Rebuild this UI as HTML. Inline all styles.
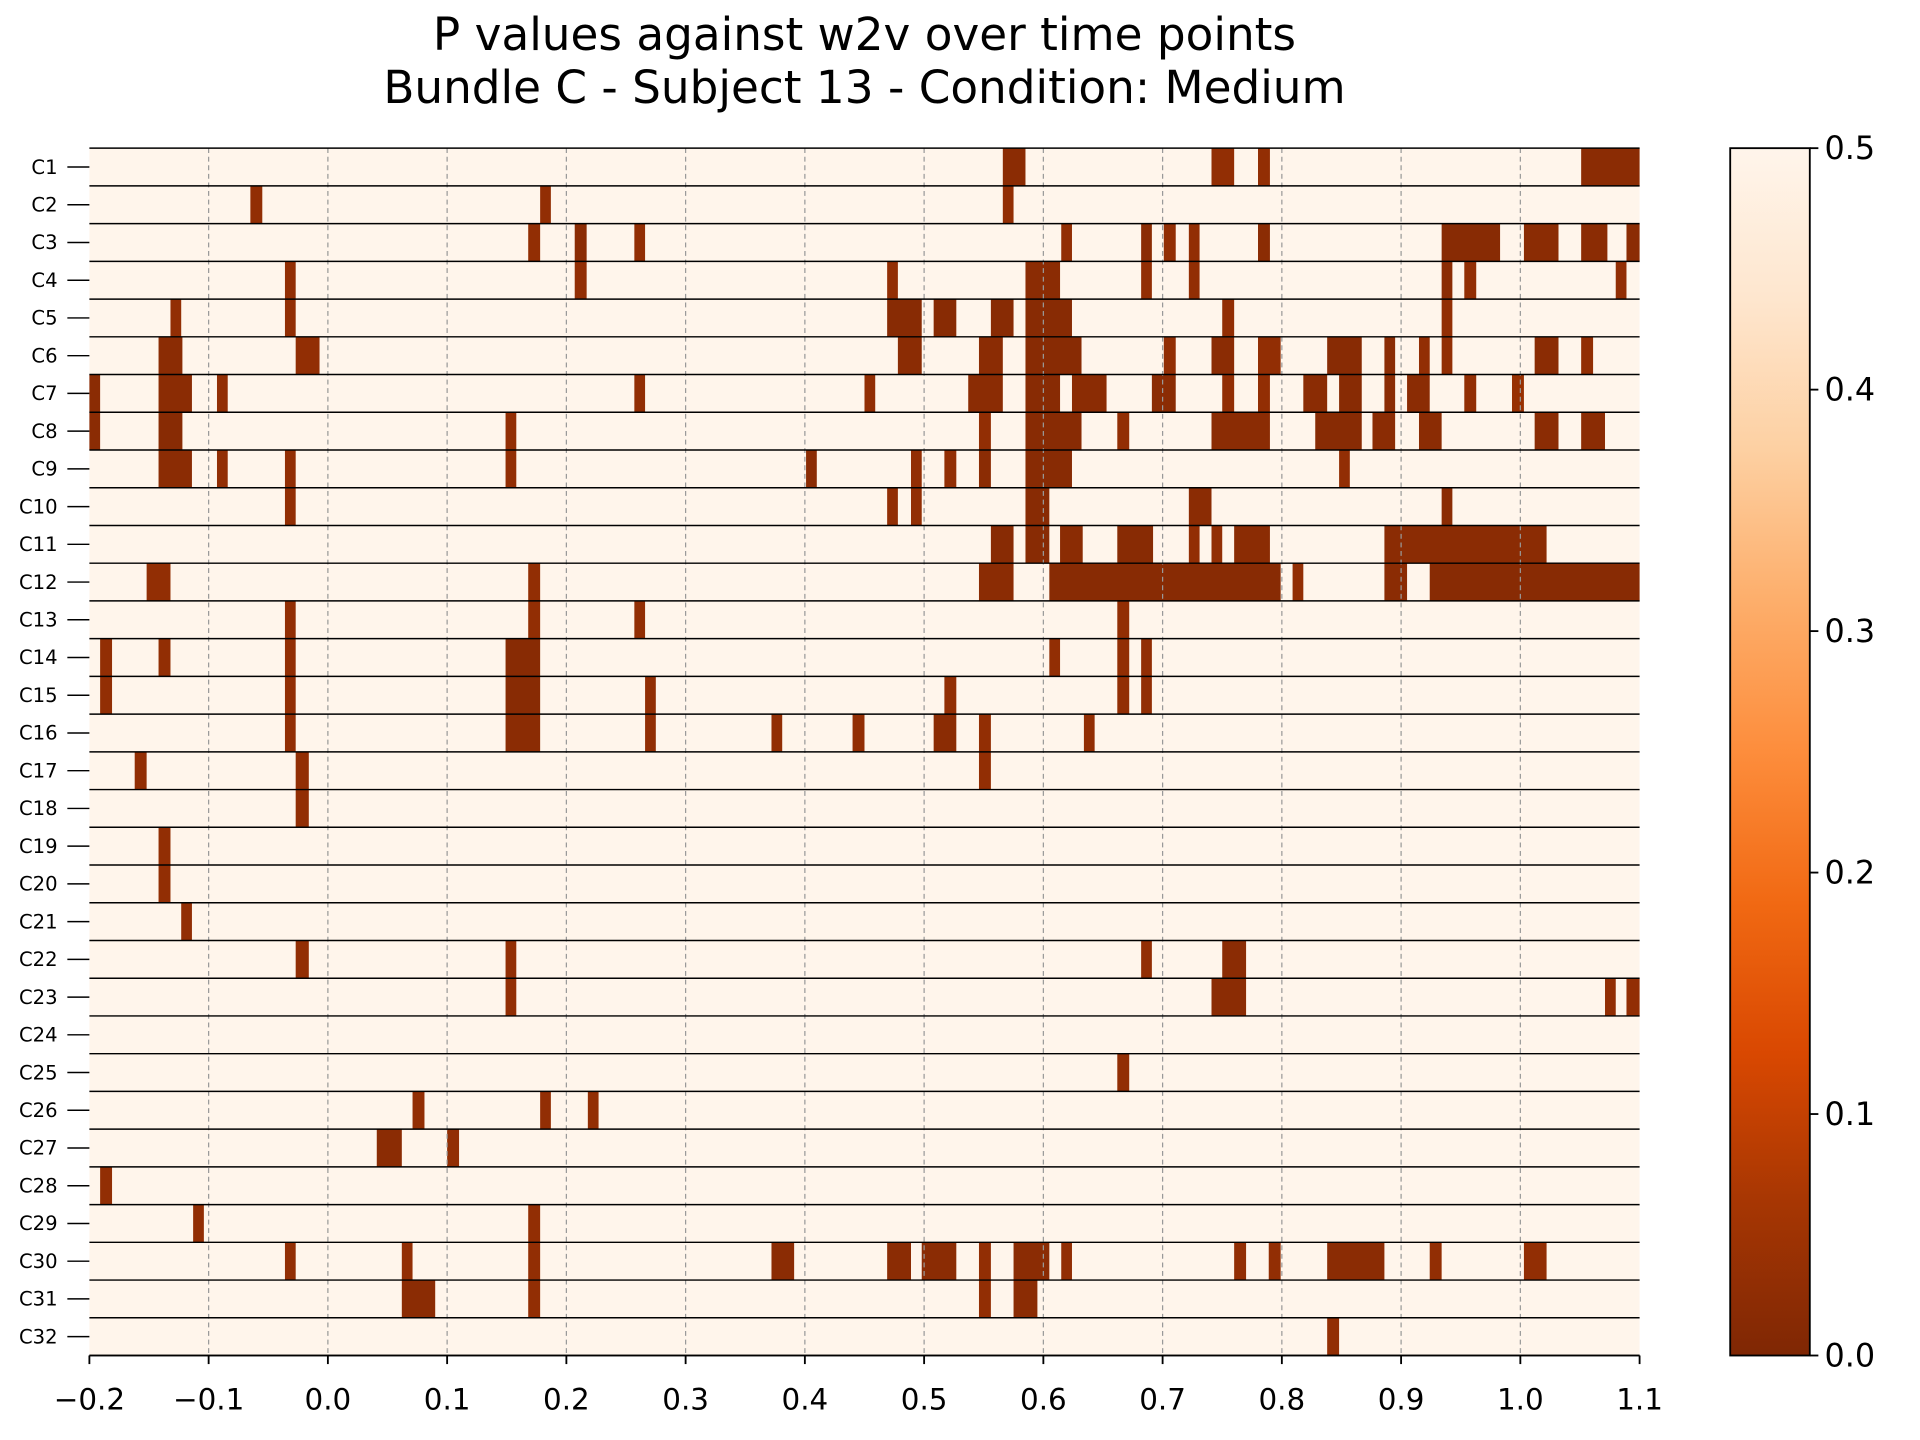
<!DOCTYPE html>
<html><head><meta charset="utf-8"><style>html,body{margin:0;padding:0;background:#fff}svg{display:block}</style></head>
<body>
<svg id="chart" width="1920" height="1440" viewBox="0 0 1568 1176" xmlns="http://www.w3.org/2000/svg" font-family="'DejaVu Sans','Liberation Sans',sans-serif">
<defs><linearGradient id="cbg" x1="0" y1="1" x2="0" y2="0">
<stop offset="0" stop-color="#7f2704"/><stop offset="0.125" stop-color="#a63603"/><stop offset="0.25" stop-color="#d94801"/><stop offset="0.375" stop-color="#f16913"/><stop offset="0.5" stop-color="#fd8d3c"/><stop offset="0.625" stop-color="#fdae6b"/><stop offset="0.75" stop-color="#fdd0a2"/><stop offset="0.875" stop-color="#fee6ce"/><stop offset="1" stop-color="#fff5eb"/></linearGradient></defs>
<text x="706" y="41" font-size="37" text-anchor="middle">P values against w2v over time points</text>
<text x="706" y="84" font-size="37" text-anchor="middle">Bundle C - Subject 13 - Condition: Medium</text>
<g id="plot"></g>
<rect x="1413" y="121" width="65" height="986" fill="url(#cbg)" stroke="#000" stroke-width="1.5"/>
<g id="cbticks"></g>
</svg>
<script>
const rowLabels = Array.from({length:32},(_, i)=>'C'+(i+1));
const xTicks = [-0.2,-0.1,0.0,0.1,0.2,0.3,0.4,0.5,0.6,0.7,0.8,0.9,1.0,1.1];
const xTickLabels = ['\u22120.2','\u22120.1','0.0','0.1','0.2','0.3','0.4','0.5','0.6','0.7','0.8','0.9','1.0','1.1'];
const cbTicks = [0.0,0.1,0.2,0.3,0.4,0.5];
// significant segments per row: [tStart, tEnd, p]
const rowSegments = [
 [[0.566,0.585,0.02],[0.741,0.76,0.03],[0.78,0.79,0.03],[1.051,1.1,0.02]],
 [[-0.065,-0.055,0.03],[0.178,0.187,0.03],[0.566,0.575,0.03]],
 [[0.168,0.178,0.03],[0.207,0.217,0.02],[0.257,0.266,0.03],[0.615,0.624,0.03],[0.682,0.691,0.02],[0.701,0.711,0.03],[0.722,0.731,0.03],[0.78,0.79,0.02],[0.934,0.983,0.015],[1.003,1.032,0.02],[1.051,1.073,0.02],[1.089,1.1,0.02]],
 [[-0.036,-0.027,0.03],[0.207,0.217,0.03],[0.469,0.478,0.03],[0.585,0.614,0.02],[0.682,0.691,0.03],[0.722,0.731,0.03],[0.934,0.943,0.02],[0.953,0.963,0.03],[1.08,1.089,0.03]],
 [[-0.132,-0.123,0.03],[-0.036,-0.027,0.03],[0.469,0.498,0.015],[0.508,0.527,0.015],[0.556,0.575,0.015],[0.585,0.624,0.015],[0.75,0.76,0.03],[0.934,0.943,0.03]],
 [[-0.142,-0.122,0.02],[-0.027,-0.007,0.03],[0.478,0.498,0.02],[0.546,0.566,0.02],[0.585,0.632,0.015],[0.701,0.711,0.03],[0.741,0.76,0.02],[0.78,0.799,0.03],[0.838,0.867,0.015],[0.886,0.895,0.02],[0.915,0.924,0.03],[0.934,0.943,0.03],[1.012,1.032,0.02],[1.051,1.061,0.03]],
 [[-0.2,-0.191,0.02],[-0.142,-0.114,0.02],[-0.093,-0.084,0.03],[0.257,0.266,0.03],[0.45,0.459,0.03],[0.537,0.566,0.02],[0.585,0.614,0.015],[0.624,0.653,0.02],[0.691,0.711,0.02],[0.75,0.76,0.03],[0.78,0.79,0.03],[0.818,0.838,0.02],[0.848,0.867,0.015],[0.886,0.895,0.02],[0.905,0.924,0.02],[0.953,0.963,0.03],[0.993,1.003,0.04]],
 [[-0.2,-0.191,0.02],[-0.142,-0.122,0.015],[0.149,0.158,0.03],[0.546,0.556,0.03],[0.585,0.632,0.015],[0.662,0.672,0.03],[0.741,0.79,0.02],[0.828,0.867,0.015],[0.876,0.895,0.02],[0.915,0.934,0.02],[1.012,1.032,0.02],[1.051,1.071,0.02]],
 [[-0.142,-0.114,0.02],[-0.093,-0.084,0.03],[-0.036,-0.027,0.03],[0.149,0.158,0.03],[0.401,0.41,0.02],[0.489,0.498,0.03],[0.517,0.527,0.03],[0.546,0.556,0.02],[0.585,0.624,0.015],[0.848,0.857,0.03]],
 [[-0.036,-0.027,0.03],[0.469,0.478,0.03],[0.489,0.498,0.03],[0.585,0.605,0.015],[0.722,0.741,0.02],[0.934,0.943,0.02]],
 [[0.556,0.575,0.015],[0.585,0.605,0.015],[0.614,0.633,0.02],[0.662,0.692,0.015],[0.722,0.731,0.03],[0.741,0.75,0.03],[0.76,0.79,0.02],[0.886,1.022,0.02]],
 [[-0.152,-0.132,0.03],[0.168,0.178,0.03],[0.546,0.575,0.02],[0.605,0.799,0.015],[0.809,0.818,0.03],[0.886,0.905,0.02],[0.924,1.1,0.015]],
 [[-0.036,-0.027,0.03],[0.168,0.178,0.03],[0.257,0.266,0.03],[0.662,0.672,0.03]],
 [[-0.191,-0.181,0.03],[-0.142,-0.132,0.03],[-0.036,-0.027,0.03],[0.149,0.178,0.015],[0.605,0.614,0.03],[0.662,0.672,0.03],[0.682,0.691,0.03]],
 [[-0.191,-0.181,0.03],[-0.036,-0.027,0.03],[0.149,0.178,0.015],[0.266,0.275,0.03],[0.517,0.527,0.03],[0.662,0.672,0.03],[0.682,0.691,0.03]],
 [[-0.036,-0.027,0.03],[0.149,0.178,0.02],[0.266,0.275,0.03],[0.372,0.381,0.03],[0.44,0.45,0.03],[0.508,0.527,0.02],[0.546,0.556,0.03],[0.634,0.643,0.03]],
 [[-0.162,-0.152,0.03],[-0.027,-0.016,0.03],[0.546,0.556,0.03]],
 [[-0.027,-0.016,0.03]],
 [[-0.142,-0.132,0.03]],
 [[-0.142,-0.132,0.03]],
 [[-0.123,-0.114,0.03]],
 [[-0.027,-0.016,0.03],[0.149,0.158,0.03],[0.682,0.691,0.03],[0.75,0.77,0.02]],
 [[0.149,0.158,0.03],[0.741,0.77,0.02],[1.071,1.08,0.03],[1.089,1.1,0.03]],
 [],
 [[0.662,0.672,0.03]],
 [[0.071,0.081,0.03],[0.178,0.187,0.03],[0.218,0.227,0.03]],
 [[0.041,0.062,0.02],[0.1,0.11,0.03]],
 [[-0.191,-0.181,0.03]],
 [[-0.113,-0.104,0.03],[0.168,0.178,0.03]],
 [[-0.036,-0.027,0.03],[0.062,0.071,0.03],[0.168,0.178,0.03],[0.372,0.391,0.02],[0.469,0.489,0.02],[0.498,0.527,0.02],[0.546,0.556,0.03],[0.575,0.605,0.02],[0.615,0.624,0.03],[0.76,0.77,0.03],[0.789,0.799,0.03],[0.838,0.886,0.02],[0.924,0.934,0.03],[1.003,1.022,0.03]],
 [[0.062,0.09,0.02],[0.168,0.178,0.03],[0.546,0.556,0.03],[0.575,0.595,0.02]],
 [[0.838,0.848,0.03]]
];
const NS='http://www.w3.org/2000/svg';
const X0=73,X1=1339,Y0=121,Y1=1107;
const xs=t=>X0+(t+0.2)/1.3*(X1-X0);
const rowH=(Y1-Y0)/rowLabels.length;
const ys=i=>Y0+i*rowH;
const stops=[[127,39,4],[166,54,3],[217,72,1],[241,105,19],[253,141,60],[253,174,107],[253,208,162],[254,230,206],[255,245,235]];
function color(p){let f=Math.max(0,Math.min(1,p/0.5))*8;let i=Math.min(7,Math.floor(f));let r=f-i;const a=stops[i],b=stops[i+1];return 'rgb('+a.map((v,k)=>Math.round(v+(b[k]-v)*r)).join(',')+')';}
function mk(tag,attrs,parent){const e=document.createElementNS(NS,tag);for(const k in attrs)e.setAttribute(k,attrs[k]);parent.appendChild(e);return e;}
const plot=document.getElementById('plot');
rowLabels.forEach((lab,i)=>{
 const bg=mk('rect',{x:X0,y:ys(i),width:X1-X0,height:rowH,fill:color(0.5)},plot);
 
 
 rowSegments[i].forEach((s,j)=>{
  const r=mk('rect',{x:xs(s[0]),y:ys(i),width:xs(s[1])-xs(s[0]),height:rowH,fill:color(s[2])},plot);
  
  
 });
 const t=mk('text',{x:47,y:ys(i)+rowH/2+5.5,'font-size':16,'text-anchor':'end'},plot);
 t.textContent=lab;
 
 
 mk('line',{x1:55,x2:X0,y1:ys(i)+rowH/2,y2:ys(i)+rowH/2,stroke:'#000','stroke-width':1.2},plot);
});
xTicks.forEach((v,k)=>{
 const x=xs(v);
 if(k>0&&k<xTicks.length-1){const g=mk('line',{x1:x,x2:x,y1:Y0,y2:Y1,stroke:'#999','stroke-width':1,'stroke-dasharray':'4,3'},plot);
  
  }
});
for(let i=0;i<=rowLabels.length;i++){
 const l=mk('line',{x1:X0,x2:X1,y1:ys(i),y2:ys(i),stroke:'#000','stroke-width':1.2},plot);
 
 
}
mk('line',{x1:X0,x2:X1,y1:Y1,y2:Y1,stroke:'#000','stroke-width':1.5},plot);
xTicks.forEach((v,k)=>{
 const x=xs(v);
 mk('line',{x1:x,x2:x,y1:Y1,y2:Y1+7,stroke:'#000','stroke-width':1.5},plot);
 const t=mk('text',{x:x,y:1151,'font-size':24,'text-anchor':'middle'},plot);
 t.textContent=xTickLabels[k];
 
 
});
const cb=document.getElementById('cbticks');
cbTicks.forEach(v=>{
 const y=1107-v/0.5*986;
 mk('line',{x1:1478,x2:1485,y1:y,y2:y,stroke:'#000','stroke-width':1.5},cb);
 const t=mk('text',{x:1490,y:y+9,'font-size':26},cb);
 t.textContent=v.toFixed(1);
 
 
});
</script>
</body></html>
